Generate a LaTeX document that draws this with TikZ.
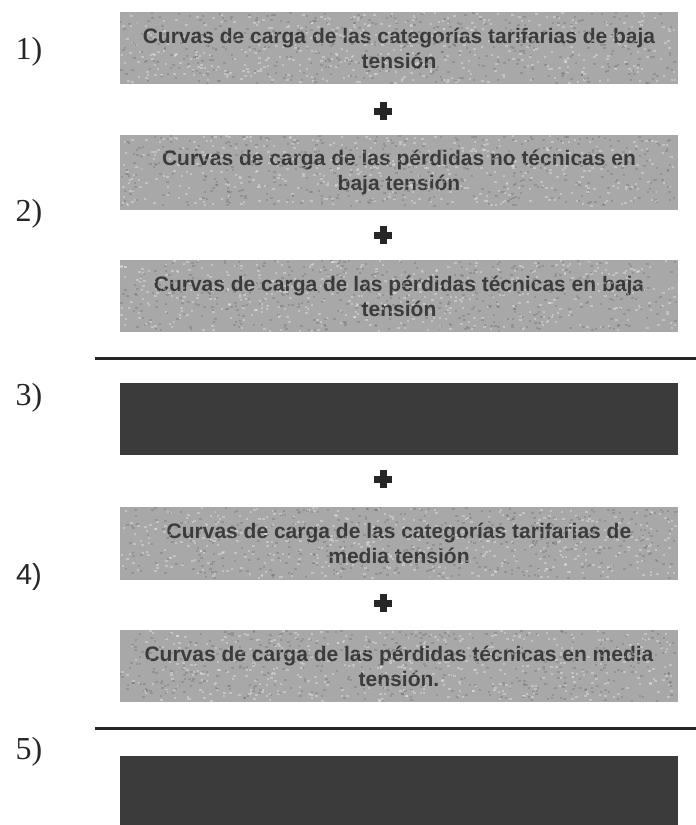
\documentclass[tikz,border=0pt]{standalone}
\usepackage{fontspec}
\setmainfont{Liberation Serif}
\newfontfamily\boxfont{Liberation Sans}
\definecolor{boxgray}{HTML}{A8A8A8}
\definecolor{boxtext}{HTML}{3C3C3C}
\definecolor{darkfill}{HTML}{3B3B3B}
\definecolor{inkc}{HTML}{262626}
\begin{document}
\begin{tikzpicture}[x=1pt,y=-1pt,
  gbox/.style={fill=boxgray,minimum width=558pt,inner sep=0pt,align=center,
    text=boxtext,font=\boxfont\bfseries\fontsize{21}{25}\selectfont},
  dbox/.style={fill=darkfill,minimum width=558pt,inner sep=0pt},
  numlab/.style={font=\fontsize{32}{34}\selectfont,text=inkc,inner sep=0pt},
  sep/.style={draw=inkc,line width=3pt},
  plusbar/.style={fill=inkc}
]
\useasboundingbox (0,0) rectangle (696,825);
\pgfmathsetseed{7}
% boxes
\node[gbox,minimum height=72pt] (b1) at (399,48) {Curvas de carga de las categorías tarifarias de baja\\tensión};
\node[gbox,minimum height=75pt] (b2) at (399,172.5) {Curvas de carga de las pérdidas no técnicas en\\baja tensión};
\node[gbox,minimum height=72pt] (b3) at (399,296) {Curvas de carga de las pérdidas técnicas en baja\\tensión};
\node[dbox,minimum height=72pt] (d1) at (399,419) {};
\node[gbox,minimum height=73pt] (b4) at (399,543.5) {Curvas de carga de las categorías tarifarias de\\media tensión};
\node[gbox,minimum height=72pt] (b5) at (399,666) {Curvas de carga de las pérdidas técnicas en media\\tensión.};
\node[dbox,minimum height=75pt] (d2) at (399,793) {};
% speckle texture on the grey boxes
\foreach \b in {b1,b2,b3,b4,b5}{
  \begin{scope}[shift={(\b.north west)}]
    \foreach \i in {1,...,450}{
      \pgfmathsetmacro\rx{rnd*555}
      \pgfmathsetmacro\ry{rnd*70}
      \fill[white,opacity=0.3] (\rx,\ry) rectangle ++(2.5,2);
      \pgfmathsetmacro\sx{rnd*555}
      \pgfmathsetmacro\sy{rnd*70}
      \fill[black,opacity=0.12] (\sx,\sy) rectangle ++(2.5,2);
    }
  \end{scope}
}
% plus signs
\foreach \n/\y in {p1/111,p2/235,p3/479,p4/603}{
  \coordinate (\n) at (383,\y);
  \fill[plusbar] ([xshift=-9pt,yshift=3.5pt]\n) rectangle ([xshift=9pt,yshift=-3.5pt]\n);
  \fill[plusbar] ([xshift=-3.5pt,yshift=9pt]\n) rectangle ([xshift=3.5pt,yshift=-9pt]\n);
}
% separators
\coordinate (l1a) at (95,358); \coordinate (l1b) at (696,358);
\coordinate (l2a) at (95,728); \coordinate (l2b) at (696,728);
\draw[sep] (l1a) -- (l1b);
\draw[sep] (l2a) -- (l2b);
% numbers
\node[numlab] (n1) at (29,52) {1)};
\node[numlab] (n2) at (29,214) {2)};
\node[numlab] (n3) at (29,398) {3)};
\node[numlab,font=\boxfont\fontsize{29}{32}\selectfont] (n4) at (29,577) {4)};
\node[numlab] (n5) at (29,752) {5)};
\end{tikzpicture}
\end{document}
